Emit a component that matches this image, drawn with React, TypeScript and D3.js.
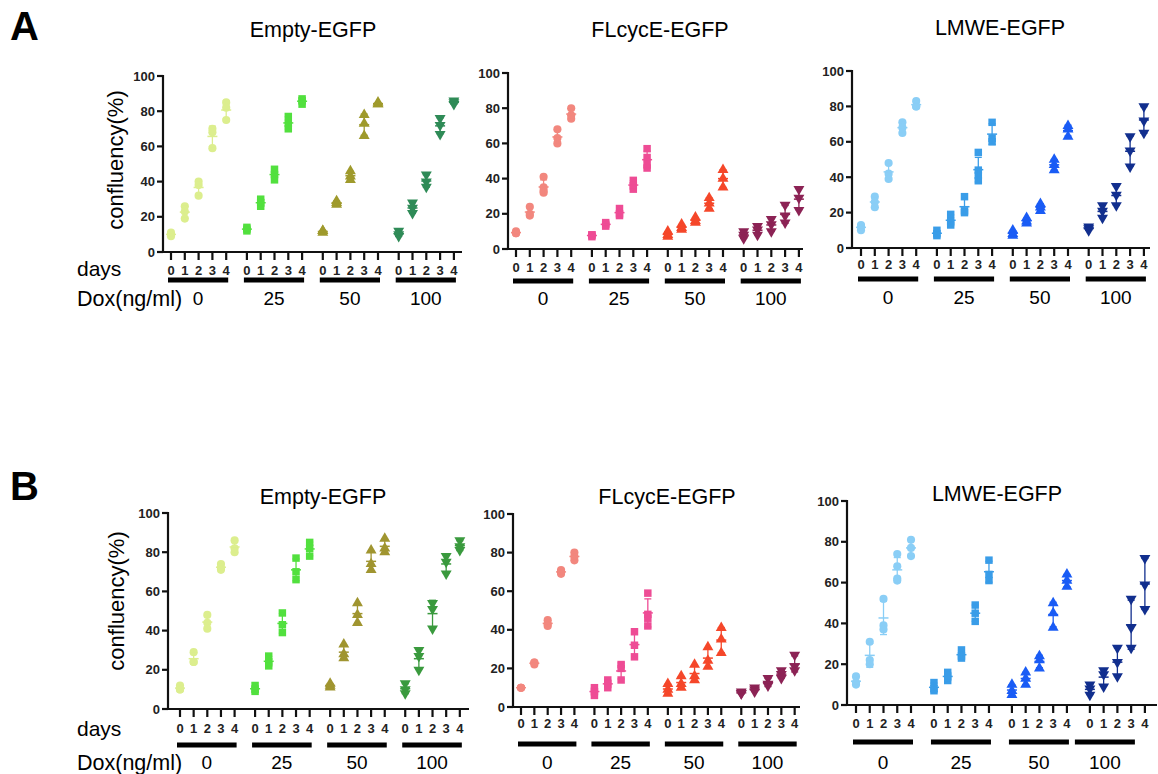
import React from "react";
import * as d3 from "d3";

// days / dox / ticks
const DAYS = ["0", "1", "2", "3", "4"];
const DOX = ["0", "25", "50", "100"];
const Y_TICKS = [0, 20, 40, 60, 80, 100];
const TITLES = ["Empty-EGFP", "FLcycE-EGFP", "LMWE-EGFP", "Empty-EGFP", "FLcycE-EGFP", "LMWE-EGFP"];
const SHAPES = ["circle", "square", "up", "down"];

// replicate values per dox group -> per day
const emptyA = [
  [[9, 10, 11], [26, 23, 19], [40, 38, 32], [70, 68, 59], [85, 82, 75]],
  [[12, 13, 14], [30, 28, 26], [47, 44, 41], [77, 73, 70], [87, 86, 84]],
  [[12, 11, 12], [29, 27, 28], [46, 43, 41], [78, 73, 66], [85, 84, 84]],
  [[12, 10, 9], [28, 25, 22], [44, 40, 37], [76, 72, 67], [86, 85, 84]],
];
const flcycA = [
  [[9, 10, 9], [24, 20, 19], [41, 35, 33, 32], [68, 63, 60], [80, 76, 74]],
  [[7, 8, 8], [13, 14, 15], [23, 20, 19], [39, 36, 34], [57, 52, 48, 46]],
  [[10, 8, 7], [14, 12, 11], [18, 16, 15], [29, 26, 23], [45, 40, 35]],
  [[10, 8, 6], [13, 11, 8], [17, 14, 10], [25, 19, 15], [34, 29, 22]],
];
const lmweA = [
  [[13, 12, 10], [29, 26, 23], [48, 42, 39], [71, 68, 65], [83, 80, 80]],
  [[10, 8, 7], [19, 15, 13], [29, 21, 20], [54, 44, 41, 38], [71, 62, 60]],
  [[10, 8, 7], [17, 15, 14], [25, 23, 21], [50, 47, 44], [69, 67, 63]],
  [[12, 11, 10], [24, 21, 17], [35, 30, 24], [63, 55, 46], [80, 72, 65]],
];
const emptyB = [
  [[12, 10, 10], [29, 24, 24], [48, 44, 41], [74, 72, 71], [86, 82, 80]],
  [[12, 10, 9], [27, 24, 22], [49, 43, 39], [77, 70, 66], [85, 82, 78]],
  [[13, 12, 11], [33, 28, 26], [54, 48, 44], [81, 74, 71], [87, 82, 80]],
  [[13, 10, 8], [30, 27, 20], [54, 51, 41], [78, 75, 69], [86, 83, 81]],
];
const flcycB = [
  [[10, 10, 10], [22, 23, 23], [45, 43, 42], [71, 70, 69], [80, 78, 76]],
  [[10, 8, 6], [14, 12, 10], [22, 20, 14], [39, 32, 26], [59, 48, 46, 42]],
  [[12, 9, 7], [16, 12, 10], [22, 16, 14], [31, 24, 21], [41, 35, 28]],
  [[8, 7, 7], [10, 9, 8], [15, 12, 11], [19, 17, 15], [27, 21, 19]],
];
const lmweB = [
  [[14, 11, 10], [31, 22, 20], [52, 39, 37], [74, 68, 62, 61], [81, 77, 73]],
  [[11, 8, 7], [16, 14, 12], [27, 24, 23], [49, 45, 41], [71, 64, 61]],
  [[10, 7, 5], [16, 13, 10], [24, 22, 18], [50, 45, 38], [64, 61, 58]],
  [[10, 8, 5], [17, 15, 9], [28, 21, 14], [52, 38, 28], [72, 59, 47]],
];

const colorsEmpty = ["#dcee8e", "#52e03e", "#9f9a2c", "#2f8b57"];
const colorsEmptyB = ["#dcee8e", "#52e03e", "#a09530", "#3a9a3e"];
const colorsFl = ["#f2877e", "#ee4c95", "#f5472a", "#8c2355"];
const colorsLm = ["#8acef6", "#3a9de8", "#1a5cf5", "#122f8e"];

const PANEL_DATA = [emptyA, flcycA, lmweA, emptyB, flcycB, lmweB];
const PANEL_COLORS = [colorsEmpty, colorsFl, colorsLm, colorsEmptyB, colorsFl, colorsLm];

// layout (pixels)
const LAYOUT = [
  { ax: 163, top: 76, bottom: 252, x0: 171, step: 13.8, stride: 5.5, end: 462, dayY: 270, barY: 280, doxY: 298, tx: 313, ty: 30 },
  { ax: 508, top: 73, bottom: 249, x0: 516, step: 13.8, stride: 5.5, end: 803, dayY: 267, barY: 281, doxY: 298, tx: 660, ty: 30 },
  { ax: 852, top: 71, bottom: 248, x0: 861, step: 13.8, stride: 5.5, end: 1150, dayY: 264, barY: 279, doxY: 297, tx: 1000, ty: 28 },
  { ax: 168, top: 513, bottom: 709, x0: 180, step: 13.65, stride: 5.5, end: 469, dayY: 728, barY: 745, doxY: 762, tx: 323, ty: 497 },
  { ax: 513, top: 514, bottom: 707, x0: 521, step: 13.35, stride: 5.5, end: 800, dayY: 723, barY: 744, doxY: 762, tx: 667, ty: 497 },
  { ax: 847, top: 501, bottom: 705, x0: 856, step: 13.75, stride: 5.67, end: 1157, dayY: 723, barY: 742, doxY: 762, tx: 997, ty: 494 },
];

const FONT = "'Liberation Sans', Arial, sans-serif";

const symbolPath = (shape: string) => {
  if (shape === "circle") return d3.symbol(d3.symbolCircle, 52)();
  if (shape === "square") return d3.symbol(d3.symbolSquare, 56)();
  return d3.symbol(d3.symbolTriangle, 52)();
};

const Panel = ({ idx }: { idx: number }) => {
  const L = LAYOUT[idx];
  const data = PANEL_DATA[idx];
  const colors = PANEL_COLORS[idx];
  const y = d3.scaleLinear().domain([0, 100]).range([L.bottom, L.top]);
  const x = d3.scaleLinear().domain([0, 1]).range([L.x0, L.x0 + L.step]);
  const xPos = (g: number, d: number) => x(g * L.stride + d);

  return (
    <g>
      <text x={L.tx} y={L.ty} textAnchor="middle" dominantBaseline="central" fontSize={21.5} fontFamily={FONT}>
        {TITLES[idx]}
      </text>
      {/* axes */}
      <line x1={L.ax} x2={L.ax} y1={L.top - 1} y2={L.bottom + 1} stroke="#111" strokeWidth={2.2} />
      <line x1={L.ax - 1} x2={L.end} y1={L.bottom} y2={L.bottom} stroke="#111" strokeWidth={2.2} />
      {Y_TICKS.map((t) => (
        <g key={t}>
          <line x1={L.ax - 6} x2={L.ax} y1={y(t)} y2={y(t)} stroke="#111" strokeWidth={2.2} />
          <text x={L.ax - 8} y={y(t)} textAnchor="end" dominantBaseline="central" fontSize={13} fontWeight="bold" fontFamily={FONT} fill="#222">
            {t}
          </text>
        </g>
      ))}
      {DOX.map((dx, g) => {
        const b0 = xPos(g, 0) - 3;
        const b1 = xPos(g, 4) + 2;
        const shift = idx === 5 && g === 3 ? -12 : 0;
        return (
          <g key={dx}>
            {DAYS.map((dl, d) => (
              <g key={dl}>
                <line x1={xPos(g, d)} x2={xPos(g, d)} y1={L.bottom} y2={L.bottom + 8} stroke="#111" strokeWidth={2.2} />
                <text x={xPos(g, d)} y={L.dayY} textAnchor="middle" dominantBaseline="central" fontSize={13} fontWeight="bold" fontFamily={FONT} fill="#222">
                  {dl}
                </text>
              </g>
            ))}
            <rect x={b0 + shift} y={L.barY - 2.5} width={b1 - b0} height={5} fill="#000" />
            <text x={(b0 + b1) / 2 + shift} y={L.doxY} textAnchor="middle" dominantBaseline="central" fontSize={19} fontFamily={FONT}>
              {dx}
            </text>
          </g>
        );
      })}
      {/* points + mean/sd */}
      {data.map((grp, g) =>
        grp.map((vals, d) => {
          const cx = xPos(g, d);
          const m = d3.mean(vals) as number;
          const sd = d3.deviation(vals) as number;
          const c = colors[g];
          const shape = SHAPES[g];
          return (
            <g key={`${g}-${d}`}>
              {vals.map((v, k) => (
                <path
                  key={k}
                  d={symbolPath(shape) as string}
                  transform={`translate(${cx},${y(v)})${shape === "down" ? " rotate(180)" : ""}`}
                  fill={c}
                />
              ))}
              <line x1={cx} x2={cx} y1={y(m - sd)} y2={y(m + sd)} stroke={c} strokeWidth={1.3} />
              <line x1={cx - 3.5} x2={cx + 3.5} y1={y(m - sd)} y2={y(m - sd)} stroke={c} strokeWidth={1.3} />
              <line x1={cx - 3.5} x2={cx + 3.5} y1={y(m + sd)} y2={y(m + sd)} stroke={c} strokeWidth={1.3} />
              <line x1={cx - 5} x2={cx + 5} y1={y(m)} y2={y(m)} stroke={c} strokeWidth={1.5} />
            </g>
          );
        })
      )}
    </g>
  );
};

export default function App() {
  return (
    <svg width={1158} height={774} style={{ position: "absolute", left: 0, top: 0, background: "#fff" }}>
      <text x={10} y={40} fontSize={40} fontWeight="bold" fontFamily={FONT}>A</text>
      <text x={10} y={500} fontSize={40} fontWeight="bold" fontFamily={FONT}>B</text>

      <text x={77} y={268} dominantBaseline="central" fontSize={21} fontFamily={FONT}>days</text>
      <text x={77} y={299} dominantBaseline="central" fontSize={21.5} fontFamily={FONT}>Dox(ng/ml)</text>
      <text transform="translate(115,160) rotate(-90)" textAnchor="middle" dominantBaseline="central" fontSize={22} fontFamily={FONT}>
        confluency(%)
      </text>

      <text x={77} y={728} dominantBaseline="central" fontSize={21} fontFamily={FONT}>days</text>
      <text x={77} y={763} dominantBaseline="central" fontSize={21.5} fontFamily={FONT}>Dox(ng/ml)</text>
      <text transform="translate(116,601) rotate(-90)" textAnchor="middle" dominantBaseline="central" fontSize={22} fontFamily={FONT}>
        confluency(%)
      </text>

      {LAYOUT.map((_, i) => (
        <Panel key={i} idx={i} />
      ))}
    </svg>
  );
}
